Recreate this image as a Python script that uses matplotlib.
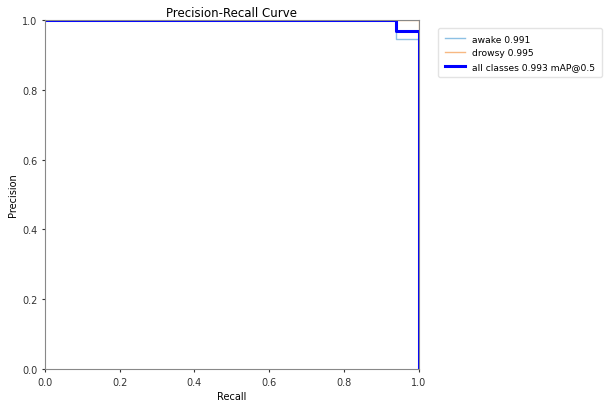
import matplotlib
matplotlib.use("Agg")
import matplotlib.pyplot as plt

# Step-curve vertices
awake_recall = [0.0, 0.94, 0.94, 1.0, 1.0]
awake_prec = [1.0, 1.0, 0.945, 0.945, 0.0]
drowsy_recall = [0.0, 1.0, 1.0]
drowsy_prec = [1.0, 1.0, 0.0]
all_recall = [0.0, 0.94, 0.94, 1.0, 1.0]
all_prec = [1.0, 1.0, 0.97, 0.97, 0.0]

labels = ["awake 0.991", "drowsy 0.995", "all classes 0.993 mAP@0.5"]
ticks = [0.0, 0.2, 0.4, 0.6, 0.8, 1.0]

fig = plt.figure(figsize=(6.07, 4.06), dpi=100)
ax = fig.add_axes([0.074, 0.089, 0.616, 0.859])
ax.plot(awake_recall, awake_prec, color="#8cc0e4", linewidth=1, label=labels[0])
ax.plot(drowsy_recall, drowsy_prec, color="#f7b882", linewidth=1, label=labels[1])
ax.plot(all_recall, all_prec, color="blue", linewidth=2.2, label=labels[2])
ax.set_xlim(0, 1)
ax.set_ylim(0, 1)
ax.set_xticks(ticks)
ax.set_yticks(ticks)
ax.tick_params(labelsize=7, length=2, colors="#333333")
for s in ax.spines.values():
    s.set_color("#888888")
ax.set_xlabel("Recall", fontsize=7, labelpad=3)
ax.set_ylabel("Precision", fontsize=7, labelpad=3)
ax.set_title("Precision-Recall Curve", fontsize=8.5, pad=3)
ax.legend(bbox_to_anchor=(1.04, 0.99), loc="upper left", fontsize=6.6, frameon=True,
          edgecolor="#dddddd", handlelength=2.2, borderpad=0.7)
fig.savefig("out.png", dpi=100)
